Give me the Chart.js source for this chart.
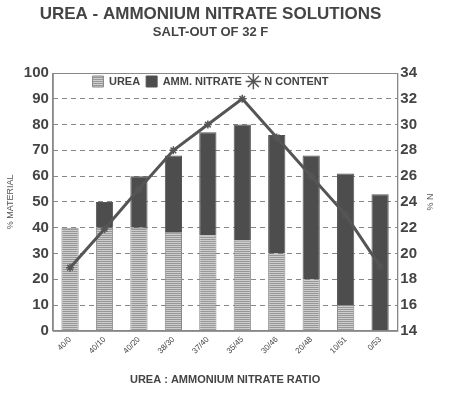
<!DOCTYPE html>
<html>
<head>
<meta charset="utf-8">
<script src="https://cdn.jsdelivr.net/npm/chart.js@4/dist/chart.umd.min.js"></script>
<style>
  html, body { margin: 0; padding: 0; background: #fff; }
  #wrap { width: 450px; height: 399px; }
</style>
</head>
<body>
<div id="wrap"><canvas id="chart" width="450" height="399"></canvas></div>
<script>
// values
const ratios = ['40/0', '40/10', '40/20', '38/30', '37/40', '35/45', '30/46', '20/48', '10/51', '0/53']
const urea = [40, 40, 40, 38, 37, 35, 30, 20, 10, 0]
const ammNitrate = [0, 10, 20, 30, 40, 45, 46, 48, 51, 53]
const nContent = [18.9, 21.9, 25.0, 28, 30, 32, 29, 26, 23, 19]

const ink = '#444'
const fontFamily = '"Liberation Sans", Arial, Helvetica, sans-serif'

// gray with horizontal hatch lines for the urea part
function hatch() {
  const c = document.createElement('canvas')
  c.width = 4
  c.height = 2
  const g = c.getContext('2d')
  g.fillStyle = '#cdcdcd'
  g.fillRect(0, 0, 4, 2)
  g.fillStyle = '#989898'
  g.fillRect(0, 1, 4, 1)
  return g.createPattern(c, 'repeat')
}

// legend sits inside the top of the plot, the frame goes round the plot,
// and the right axis title reads bottom to top like the left one
const LEGEND_DROP = 24
const frame = {
  id: 'frame',
  afterLayout(chart) {
    const lg = chart.legend
    lg.top += LEGEND_DROP
    lg.bottom += LEGEND_DROP
  },
  afterDatasetsDraw(chart) {
    const { ctx, chartArea: a } = chart
    ctx.save()
    ctx.strokeStyle = '#888'
    ctx.lineWidth = 1
    ctx.strokeRect(a.left + 0.5, a.top + 0.5, a.right - a.left, a.bottom - a.top)
    ctx.restore()
  },
  afterDraw(chart) {
    const { ctx, chartArea: a } = chart
    ctx.save()
    ctx.translate(431, (a.top + a.bottom) / 2)
    ctx.rotate(-Math.PI / 2)
    ctx.fillStyle = '#555'
    ctx.font = '9px ' + fontFamily
    ctx.textAlign = 'center'
    ctx.textBaseline = 'middle'
    ctx.fillText('% N', 0, 0)
    ctx.restore()
  }
}

new Chart(document.getElementById('chart'), {
  type: 'bar',
  data: {
    labels: ratios,
    datasets: [
      {
        label: 'UREA',
        data: urea,
        backgroundColor: hatch(),
        borderColor: '#8a8a8a',
        borderWidth: 1,
        pointStyle: 'rect',
        stack: 'mix',
        yAxisID: 'y',
        order: 1
      },
      {
        label: 'AMM. NITRATE',
        data: ammNitrate,
        backgroundColor: '#4d4d4d',
        borderColor: '#555',
        borderWidth: 1,
        pointStyle: 'rect',
        stack: 'mix',
        yAxisID: 'y',
        order: 1
      },
      {
        type: 'line',
        label: 'N CONTENT',
        data: nContent,
        borderColor: '#555',
        borderWidth: 3,
        pointStyle: 'star',
        pointRadius: 4,
        pointBorderColor: '#555',
        pointBorderWidth: 1.5,
        tension: 0,
        yAxisID: 'y2',
        order: 0
      }
    ]
  },
  options: {
    responsive: false,
    animation: false,
    layout: { padding: { left: 1, right: 30, bottom: 12, top: 0 } },
    datasets: { bar: { barPercentage: 0.5, categoryPercentage: 1 } },
    plugins: {
      title: {
        display: true,
        text: 'UREA - AMMONIUM NITRATE SOLUTIONS',
        color: ink,
        font: { family: fontFamily, size: 17, weight: 'bold' },
        padding: { top: 4, bottom: 0 }
      },
      subtitle: {
        display: true,
        text: 'SALT-OUT OF 32 F',
        color: ink,
        font: { family: fontFamily, size: 13, weight: 'bold' },
        padding: { top: 0, bottom: 6 }
      },
      legend: {
        position: 'top',
        align: 'center',
        labels: {
          usePointStyle: true,
          boxWidth: 11,
          boxHeight: 11,
          padding: 6,
          color: ink,
          font: { family: fontFamily, size: 11, weight: 'bold' },
          sort: (a, b) => a.datasetIndex - b.datasetIndex
        }
      },
      tooltip: { enabled: false }
    },
    scales: {
      x: {
        stacked: true,
        grid: { display: false, drawTicks: false },
        border: { color: '#888' },
        ticks: {
          color: ink,
          minRotation: 45,
          maxRotation: 45,
          padding: 4,
          font: { family: fontFamily, size: 8 }
        },
        title: {
          display: true,
          text: 'UREA : AMMONIUM NITRATE RATIO',
          color: ink,
          font: { family: fontFamily, size: 11, weight: 'bold' },
          padding: { top: 14, bottom: 0 }
        }
      },
      y: {
        stacked: true,
        position: 'left',
        min: 0,
        max: 100,
        ticks: {
          stepSize: 10,
          color: ink,
          padding: 4,
          font: { family: fontFamily, size: 15, weight: 'bold' }
        },
        grid: { color: '#888', drawTicks: false },
        border: { color: '#888', dash: [5, 4] },
        title: {
          display: true,
          text: '% MATERIAL',
          color: '#555',
          font: { family: fontFamily, size: 9 },
          padding: 4
        }
      },
      y2: {
        position: 'right',
        min: 14,
        max: 34,
        ticks: {
          stepSize: 2,
          color: ink,
          padding: 3,
          font: { family: fontFamily, size: 15, weight: 'bold' }
        },
        grid: { display: false, drawTicks: false },
        border: { color: '#888' }
      }
    }
  },
  plugins: [frame]
})
</script>
</body>
</html>
